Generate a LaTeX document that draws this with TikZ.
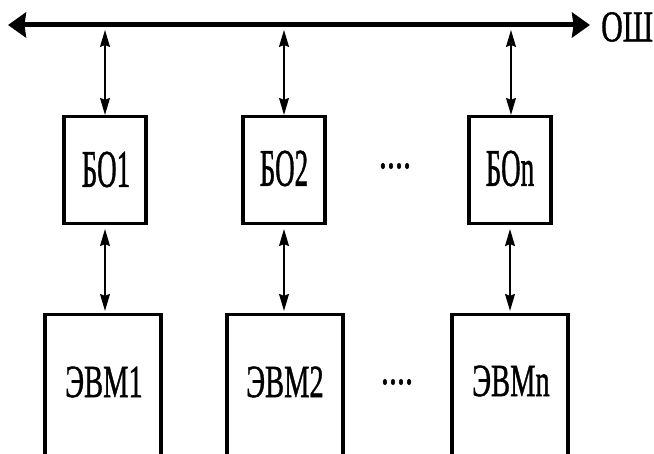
\documentclass[tikz,border=0pt]{standalone}
\usepackage{fontspec}
\usepackage{graphicx}
\setmainfont{Liberation Serif}
% slightly heavier face for the labels
\newfontfamily\lblfont[FakeBold=1.2]{Liberation Serif}
\usetikzlibrary{arrows.meta}
% horizontally condensed text
\newcommand\narrowtext[2]{\scalebox{#1}[1]{#2}}
\begin{document}
\begin{tikzpicture}[x=1pt,y=-1pt,
  bushead/.tip={Stealth[length=18pt,width=25pt,inset=1.5pt]},
  linkhead/.tip={Stealth[length=17pt,width=10pt,inset=2pt]},
  busline/.style={line width=5pt, bushead-bushead},
  link/.style={line width=1.3pt, linkhead-linkhead},
  bobox/.style={draw, line width=3.2pt, minimum width=82pt, minimum height=107pt, inner sep=0pt},
  evmbox/.style={draw, line width=3.2pt, minimum width=116pt, minimum height=141pt, inner sep=0pt},
  botext/.style={font=\lblfont\fontsize{53}{53}\selectfont, inner sep=0pt},
  evmtext/.style={font=\lblfont\fontsize{46}{46}\selectfont, inner sep=0pt},
  bustext/.style={font=\lblfont\fontsize{44}{44}\selectfont, inner sep=0pt, anchor=west},
  dots/.style={font=\lblfont\fontsize{46}{46}\selectfont, inner sep=0pt}
]
\useasboundingbox (0,0) rectangle (654,454);
\clip (0,0) rectangle (654,454);
\fill[white] (0,0) rectangle (654,454);

% common bus
\coordinate (busL) at (8,25);
\coordinate (busR) at (590,25);
\draw[busline] (busL) -- (busR);
\node[bustext] (bus) at (601,27) {\narrowtext{0.68}{ОШ}};

% exchange units
\node[bobox] (bo1) at (105,170) {};
\node[bobox] (bo2) at (284,170) {};
\node[bobox] (bon) at (510,170) {};
\node[botext] (bo1t) at (106,169.5) {\narrowtext{0.51}{БО1}};
\node[botext] (bo2t) at (284,168.5) {\narrowtext{0.51}{БО2}};
\node[botext] (bont) at (510,168.5) {\narrowtext{0.51}{БОn}};
\node[dots] (dtop) at (395,166) {\narrowtext{0.7}{....}};

% computers (boxes run past the lower edge)
\node[evmbox] (e1) at (103,385) {};
\node[evmbox] (e2) at (285,385) {};
\node[evmbox] (en) at (510,385) {};
\node[evmtext] (e1t) at (104,382) {\narrowtext{0.62}{ЭВМ1}};
\node[evmtext] (e2t) at (285,382) {\narrowtext{0.62}{ЭВМ2}};
\node[evmtext] (ent) at (511,381) {\narrowtext{0.62}{ЭВМn}};
\node[dots] (dbot) at (397,382) {\narrowtext{0.7}{....}};

% bus taps
\coordinate (t1) at (105,30);
\coordinate (t2) at (284,30);
\coordinate (tn) at (511,30);
\draw[link] (t1) -- (t1 |- bo1.north);
\draw[link] (t2) -- (t2 |- bo2.north);
\draw[link] (tn) -- (tn |- bon.north);

% unit to computer links
\draw[link, shorten <=4pt, shorten >=2pt] (bo1.south) -- (bo1.south |- e1.north);
\draw[link, shorten <=4pt, shorten >=2pt] (bo2.south) -- (bo2.south |- e2.north);
\draw[link, shorten <=4pt, shorten >=2pt] (bon.south) -- (bon.south |- en.north);
\end{tikzpicture}
\end{document}
